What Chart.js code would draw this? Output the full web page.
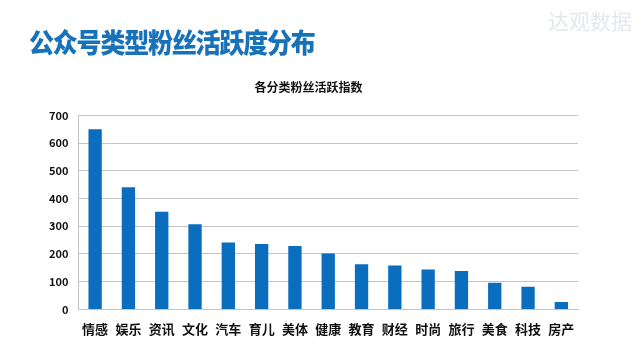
<!DOCTYPE html>
<html>
<head>
<meta charset="utf-8">
<script src="https://cdn.jsdelivr.net/npm/chart.js@4/dist/chart.umd.min.js"></script>
<style>
  html, body { margin: 0; padding: 0; background: #fff; }
  #wrap { position: relative; width: 640px; height: 360px; overflow: hidden; }
  #heading {
    position: absolute; left: 29px; top: 22px;
    font-family: "Noto Sans CJK SC", sans-serif; font-weight: 900;
    font-size: 25px; color: #1872b9; letter-spacing: -1.2px; white-space: nowrap;
    transform: scaleY(1.08); transform-origin: left top;
  }
  #mark {
    position: absolute; left: 548px; top: 5px;
    font-family: "Noto Sans CJK SC", sans-serif; font-size: 21px;
    color: #e4e8ee; white-space: nowrap;
  }
  canvas { position: absolute; left: 0; top: 0; }
</style>
</head>
<body>
<div id="wrap">
  <canvas id="chart" width="640" height="360"></canvas>
  <div id="heading">公众号类型粉丝活跃度分布</div>
  <div id="mark">达观数据</div>
</div>
<script>
// category labels and activity index
const categories = ['情感','娱乐','资讯','文化','汽车','育儿','美体','健康','教育','财经','时尚','旅行','美食','科技','房产'];
const activity = [650, 441, 352, 307, 241, 236, 229, 202, 163, 158, 144, 139, 96, 82, 27];
const yTicks = [0, 100, 200, 300, 400, 500, 600, 700];

const font = '"Noto Sans CJK SC", sans-serif';

new Chart(document.getElementById('chart'), {
  type: 'bar',
  data: {
    labels: categories,
    datasets: [{ label: '各分类粉丝活跃指数', data: activity, backgroundColor: '#0a6dbd' }]
  },
  options: {
    responsive: false,
    animation: false,
    layout: { padding: { top: 80, left: 39, right: 62, bottom: 11 } },
    plugins: {
      legend: { display: false },
      tooltip: { enabled: false },
      title: {
        display: true,
        text: '各分类粉丝活跃指数',
        color: '#111',
        font: { family: font, size: 12, weight: 'bold' },
        padding: { top: 0, bottom: 21 }
      }
    },
    datasets: { bar: { categoryPercentage: 1, barPercentage: 0.4 } },
    scales: {
      x: {
        grid: { display: false, drawTicks: false },
        border: { color: '#c4c4c4' },
        ticks: { color: '#111', font: { family: font, size: 13, weight: 'bold' }, padding: 12, maxRotation: 0, autoSkip: false }
      },
      y: {
        min: 0, max: 700,
        afterBuildTicks: axis => { axis.ticks = yTicks.map(v => ({ value: v })); },
        grid: { color: '#c4c4c4', drawTicks: false },
        border: { color: '#c4c4c4' },
        ticks: { color: '#111', font: { family: font, size: 11, weight: 'bold' }, padding: 10 }
      }
    }
  }
});
</script>
</body>
</html>
